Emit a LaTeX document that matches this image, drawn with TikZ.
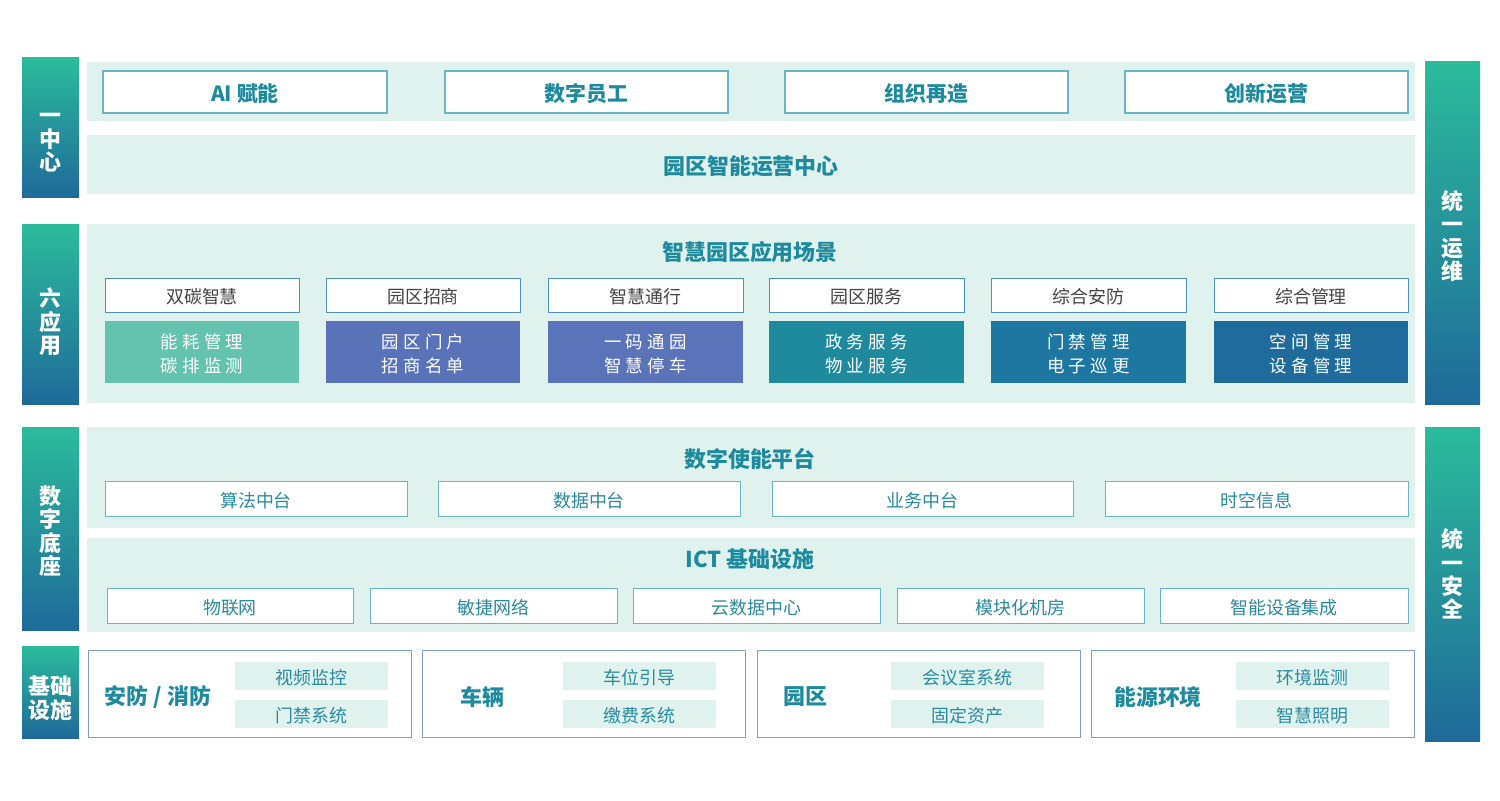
\documentclass[tikz,border=0pt]{standalone}
\usepackage{fontspec}
\setmainfont{Noto Sans CJK SC}
\usetikzlibrary{fit}
\definecolor{panelc}{HTML}{E0F2EE}
\definecolor{gtop}{HTML}{2BBB9B}
\definecolor{gbot}{HTML}{1F6A9A}
\definecolor{headc}{HTML}{1E8A9E}
\definecolor{catc}{HTML}{444444}
\definecolor{platc}{HTML}{2A8A9E}
\definecolor{boxline}{HTML}{6AB5C4}
\definecolor{catline}{HTML}{4F8FC8}
\definecolor{bigline}{HTML}{7E9DD2}
\definecolor{cA}{HTML}{63C3AE}
\definecolor{cB}{HTML}{5A72B8}
\definecolor{cC}{HTML}{5B73B9}
\definecolor{cD}{HTML}{1F8A9E}
\definecolor{cE}{HTML}{1E77A0}
\definecolor{cF}{HTML}{1F6C9C}
\tikzset{
  bx/.style={fit={#1}, inner sep=0pt, outer sep=0pt},
  txt/.style={yshift=-2bp},
  sidebar/.style={top color=gtop, bottom color=gbot, draw=none},
  sidetext/.style={txt, text=white, font=\fontsize{22}{23.5}\selectfont\bfseries, align=center, inner sep=0pt},
  panelbox/.style={fill=panelc, draw=none},
  topbox/.style={fill=white, draw=boxline, line width=1.2pt},
  toptext/.style={txt, text=headc, font=\fontsize{21}{24}\selectfont\bfseries},
  headtext/.style={txt, text=headc, font=\fontsize{22}{24}\selectfont\bfseries},
  catbox/.style={fill=white, draw=catline, line width=1pt},
  cattext/.style={txt, text=catc, font=\fontsize{18}{20}\selectfont},
  colbox/.style={fill=#1, draw=none},
  coltext/.style={txt, text=white, align=center, font=\fontsize{17.5}{24}\selectfont\addfontfeature{LetterSpace=24}},
  platbox/.style={fill=white, draw=boxline, line width=1pt},
  plattext/.style={txt, text=platc, font=\fontsize{18}{20}\selectfont},
  bigbox/.style={fill=white, draw=bigline, line width=1pt},
  bigtext/.style={txt, text=headc, font=\fontsize{22}{24}\selectfont\bfseries},
  subbox/.style={fill=panelc, draw=none},
}
\begin{document}
\begin{tikzpicture}[x=1bp, y=-1bp]
\useasboundingbox[fill=white] (0,0) rectangle (1500,800);
% left side bars
\node[sidebar, bx={(22,58)(79,197)}] (s1) {};
\node[sidebar, bx={(22,224)(79,404)}] (s2) {};
\node[sidebar, bx={(22,427)(79,630)}] (s3) {};
\node[sidebar, bx={(22,646)(79,738)}] (s4) {};
\node[sidetext] (s1l) at (50.5,141) {一\\中\\心};
\node[sidetext] (s2l) at (50.5,320) {六\\应\\用};
\node[sidetext] (s3l) at (50.5,529) {数\\字\\底\\座};
\node[sidetext] (s4l) at (50.5,696) {基础\\设施};
% right side bars
\node[sidebar, bx={(1425,62)(1480,404)}] (r1) {};
\node[sidebar, bx={(1425,427)(1480,741)}] (r2) {};
\node[sidetext] (r1l) at (1452.5,234) {统\\一\\运\\维};
\node[sidetext] (r2l) at (1452.5,572) {统\\一\\安\\全};
% panels
\node[panelbox, bx={(87,62)(1415,121)}] (p1) {};
\node[panelbox, bx={(87,135)(1415,194)}] (p2) {};
\node[headtext] (p2l) at (p2) {园区智能运营中心};
\node[panelbox, bx={(87,224)(1415,403)}] (p3) {};
\node[panelbox, bx={(87,427)(1415,528)}] (p4) {};
\node[panelbox, bx={(87,538)(1415,632)}] (p5) {};
% top boxes
\node[topbox, bx={(103,71)(387,113)}] (t1) {};
\node[topbox, bx={(445,71)(728,113)}] (t2) {};
\node[topbox, bx={(785,71)(1068,113)}] (t3) {};
\node[topbox, bx={(1125,71)(1408,113)}] (t4) {};
\node[toptext] (t1l) at (t1) {AI 赋能};
\node[toptext] (t2l) at (t2) {数字员工};
\node[toptext] (t3l) at (t3) {组织再造};
\node[toptext] (t4l) at (t4) {创新运营};
% application scenes
\node[headtext] (h3) at (750,250) {智慧园区应用场景};
\node[catbox, bx={(105,278)(299,312)}] (c1) {};
\node[catbox, bx={(326,278)(520,312)}] (c2) {};
\node[catbox, bx={(548,278)(743,312)}] (c3) {};
\node[catbox, bx={(769,278)(964,312)}] (c4) {};
\node[catbox, bx={(991,278)(1186,312)}] (c5) {};
\node[catbox, bx={(1214,278)(1408,312)}] (c6) {};
\node[cattext] (c1l) at (c1) {双碳智慧};
\node[cattext] (c2l) at (c2) {园区招商};
\node[cattext] (c3l) at (c3) {智慧通行};
\node[cattext] (c4l) at (c4) {园区服务};
\node[cattext] (c5l) at (c5) {综合安防};
\node[cattext] (c6l) at (c6) {综合管理};
\node[colbox=cA, bx={(105,321)(299,383)}] (d1) {};
\node[colbox=cB, bx={(326,321)(520,383)}] (d2) {};
\node[colbox=cC, bx={(548,321)(743,383)}] (d3) {};
\node[colbox=cD, bx={(769,321)(964,383)}] (d4) {};
\node[colbox=cE, bx={(991,321)(1186,383)}] (d5) {};
\node[colbox=cF, bx={(1214,321)(1408,383)}] (d6) {};
\node[coltext] (d1l) at (d1) {能耗管理\\碳排监测};
\node[coltext] (d2l) at (d2) {园区门户\\招商名单};
\node[coltext] (d3l) at (d3) {一码通园\\智慧停车};
\node[coltext] (d4l) at (d4) {政务服务\\物业服务};
\node[coltext] (d5l) at (d5) {门禁管理\\电子巡更};
\node[coltext] (d6l) at (d6) {空间管理\\设备管理};
% digital platform
\node[headtext] (h4) at (750,457) {数字使能平台};
\node[platbox, bx={(105,481)(407,516)}] (e1) {};
\node[platbox, bx={(438,481)(740,516)}] (e2) {};
\node[platbox, bx={(772,481)(1073,516)}] (e3) {};
\node[platbox, bx={(1105,481)(1408,516)}] (e4) {};
\node[plattext] (e1l) at (e1) {算法中台};
\node[plattext] (e2l) at (e2) {数据中台};
\node[plattext] (e3l) at (e3) {业务中台};
\node[plattext] (e4l) at (e4) {时空信息};
% ICT
\node[headtext] (h5) at (750,557) {ICT 基础设施};
\node[platbox, bx={(107,588)(353,623)}] (f1) {};
\node[platbox, bx={(370,588)(617,623)}] (f2) {};
\node[platbox, bx={(633,588)(880,623)}] (f3) {};
\node[platbox, bx={(897,588)(1144,623)}] (f4) {};
\node[platbox, bx={(1160,588)(1408,623)}] (f5) {};
\node[plattext] (f1l) at (f1) {物联网};
\node[plattext] (f2l) at (f2) {敏捷网络};
\node[plattext] (f3l) at (f3) {云数据中心};
\node[plattext] (f4l) at (f4) {模块化机房};
\node[plattext] (f5l) at (f5) {智能设备集成};
% infrastructure
\node[bigbox, bx={(88,650)(411,737)}] (g1) {};
\node[bigbox, bx={(422,650)(745,737)}] (g2) {};
\node[bigbox, bx={(757,650)(1080,737)}] (g3) {};
\node[bigbox, bx={(1091,650)(1414,737)}] (g4) {};
\node[bigtext] (g1t) at (158,695) {安防 / 消防};
\node[bigtext] (g2t) at (482,695) {车辆};
\node[bigtext] (g3t) at (805,695) {园区};
\node[bigtext] (g4t) at (1158,695) {能源环境};
\node[subbox, bx={(235,662)(388,690)}] (k1) {};
\node[subbox, bx={(235,700)(388,728)}] (k2) {};
\node[subbox, bx={(563,662)(716,690)}] (k3) {};
\node[subbox, bx={(563,700)(716,728)}] (k4) {};
\node[subbox, bx={(891,662)(1044,690)}] (k5) {};
\node[subbox, bx={(891,700)(1044,728)}] (k6) {};
\node[subbox, bx={(1236,662)(1389,690)}] (k7) {};
\node[subbox, bx={(1236,700)(1389,728)}] (k8) {};
\node[plattext] (k1l) at (k1) {视频监控};
\node[plattext] (k2l) at (k2) {门禁系统};
\node[plattext] (k3l) at (k3) {车位引导};
\node[plattext] (k4l) at (k4) {缴费系统};
\node[plattext] (k5l) at (k5) {会议室系统};
\node[plattext] (k6l) at (k6) {固定资产};
\node[plattext] (k7l) at (k7) {环境监测};
\node[plattext] (k8l) at (k8) {智慧照明};
\end{tikzpicture}
\end{document}
